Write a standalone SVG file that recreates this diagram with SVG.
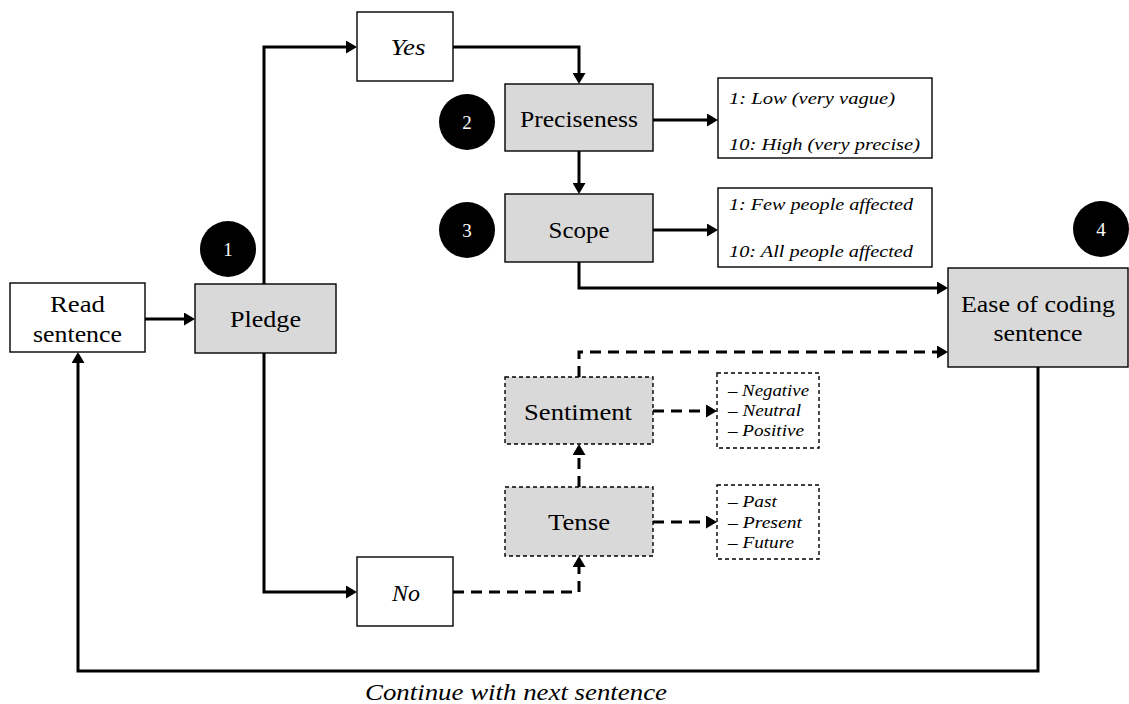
<svg xmlns="http://www.w3.org/2000/svg" width="1129" height="704" viewBox="0 0 1129 704">
<style>
  .box { fill: #ffffff; stroke: #000; stroke-width: 1.4; }
  .gbox { fill: #d9d9d9; stroke: #000; stroke-width: 1.4; }
  .dbox { fill: #d9d9d9; stroke: #000; stroke-width: 1.4; stroke-dasharray: 4 3; }
  .dwbox { fill: #ffffff; stroke: #000; stroke-width: 1.4; stroke-dasharray: 4 3; }
  text { font-family: "Liberation Serif", "DejaVu Serif Condensed", "Noto Serif", "DejaVu Serif", serif; fill: #000; }
  .t { font-size: 23px; text-anchor: middle; }
  .ti { font-size: 23px; font-style: italic; text-anchor: middle; }
  .r { font-size: 17.5px; font-style: italic; }
  .l { font-size: 16.5px; font-style: italic; }
  .num { font-size: 19px; fill: #fff; text-anchor: middle; }
  .c { fill: none; stroke: #000; stroke-width: 3; marker-end: url(#ah); }
  .cd { fill: none; stroke: #000; stroke-width: 3; stroke-dasharray: 11 7; marker-end: url(#ah); }
</style>
<defs>
  <marker id="ah" viewBox="0 0 11 13" markerWidth="11" markerHeight="13" markerUnits="userSpaceOnUse" refX="7" refY="6.5" orient="auto">
    <path d="M0,0 L11,6.5 L0,13 z" fill="#000"/>
  </marker>
</defs>
<rect width="1129" height="704" fill="#fff"/>

<g id="connectors">
  <path class="c" d="M145,319 H191"/>
  <path class="c" d="M264,284 V47 H353"/>
  <path class="c" d="M453,47 H579 V80"/>
  <path class="c" d="M653,120 H714"/>
  <path class="c" d="M579,151 V190"/>
  <path class="c" d="M653,230 H714"/>
  <path class="c" d="M579,262 V288 H944"/>
  <path class="c" d="M264,353 V592 H353"/>
  <path class="cd" d="M453,592 H579 V560"/>
  <path class="cd" d="M579,487 V448"/>
  <path class="cd" d="M653,411 H713"/>
  <path class="cd" d="M653,522 H713"/>
  <path class="cd" d="M579,377 V352 H944"/>
  <path class="c" d="M1038,367 V671 H78 V356"/>
</g>

<g id="read">
  <rect class="box" x="10" y="283" width="135" height="69"/>
  <text class="t" x="77.5" y="312" textLength="55" lengthAdjust="spacingAndGlyphs">Read</text>
  <text class="t" x="77.5" y="342" textLength="89" lengthAdjust="spacingAndGlyphs">sentence</text>
</g>
<g id="pledge">
  <rect class="gbox" x="195" y="284" width="141" height="69"/>
  <text class="t" x="265.5" y="327" textLength="71" lengthAdjust="spacingAndGlyphs">Pledge</text>
</g>
<g id="badge1">
  <circle cx="228" cy="249" r="28" fill="#000"/>
  <text class="num" x="228" y="256">1</text>
</g>
<g id="yes">
  <rect class="box" x="357" y="12" width="96" height="69"/>
  <text class="ti" x="408" y="55" textLength="35" lengthAdjust="spacingAndGlyphs">Yes</text>
</g>
<g id="no">
  <rect class="box" x="357" y="557" width="96" height="69"/>
  <text class="ti" x="406" y="601" textLength="28" lengthAdjust="spacingAndGlyphs">No</text>
</g>
<g id="preciseness">
  <rect class="gbox" x="505" y="84" width="148" height="67"/>
  <text class="t" x="579" y="127" textLength="118" lengthAdjust="spacingAndGlyphs">Preciseness</text>
</g>
<g id="badge2">
  <circle cx="467" cy="122" r="28" fill="#000"/>
  <text class="num" x="467" y="129">2</text>
</g>
<g id="scope">
  <rect class="gbox" x="505" y="194" width="148" height="68"/>
  <text class="t" x="579" y="238" textLength="61" lengthAdjust="spacingAndGlyphs">Scope</text>
</g>
<g id="badge3">
  <circle cx="467" cy="230" r="28" fill="#000"/>
  <text class="num" x="467" y="237">3</text>
</g>
<g id="range-preciseness">
  <rect class="box" x="718" y="78" width="214" height="80"/>
  <text class="r" x="729" y="104" textLength="166" lengthAdjust="spacingAndGlyphs">1: Low (very vague)</text>
  <text class="r" x="729" y="150" textLength="191" lengthAdjust="spacingAndGlyphs">10: High (very precise)</text>
</g>
<g id="range-scope">
  <rect class="box" x="718" y="188" width="214" height="79"/>
  <text class="r" x="729" y="210" textLength="184" lengthAdjust="spacingAndGlyphs">1: Few people affected</text>
  <text class="r" x="729" y="257" textLength="184" lengthAdjust="spacingAndGlyphs">10: All people affected</text>
</g>
<g id="ease">
  <rect class="gbox" x="948" y="268" width="180" height="99"/>
  <text class="t" x="1038" y="312" textLength="154" lengthAdjust="spacingAndGlyphs">Ease of coding</text>
  <text class="t" x="1038" y="341" textLength="89" lengthAdjust="spacingAndGlyphs">sentence</text>
</g>
<g id="badge4">
  <circle cx="1101" cy="229" r="28" fill="#000"/>
  <text class="num" x="1101" y="236">4</text>
</g>
<g id="sentiment">
  <rect class="dbox" x="505" y="377" width="148" height="67"/>
  <text class="t" x="578" y="420" textLength="108" lengthAdjust="spacingAndGlyphs">Sentiment</text>
</g>
<g id="sentiment-list">
  <rect class="dwbox" x="717" y="373" width="102" height="75"/>
  <text class="l" x="728" y="396" textLength="81" lengthAdjust="spacingAndGlyphs">– Negative</text>
  <text class="l" x="728" y="416" textLength="73" lengthAdjust="spacingAndGlyphs">– Neutral</text>
  <text class="l" x="728" y="436" textLength="76" lengthAdjust="spacingAndGlyphs">– Positive</text>
</g>
<g id="tense">
  <rect class="dbox" x="505" y="487" width="148" height="69"/>
  <text class="t" x="579" y="530" textLength="62" lengthAdjust="spacingAndGlyphs">Tense</text>
</g>
<g id="tense-list">
  <rect class="dwbox" x="717" y="485" width="102" height="74"/>
  <text class="l" x="728" y="507" textLength="49" lengthAdjust="spacingAndGlyphs">– Past</text>
  <text class="l" x="728" y="528" textLength="74" lengthAdjust="spacingAndGlyphs">– Present</text>
  <text class="l" x="728" y="548" textLength="66" lengthAdjust="spacingAndGlyphs">– Future</text>
</g>
<g id="loop-label">
  <text class="ti" x="516" y="700" textLength="302" lengthAdjust="spacingAndGlyphs">Continue with next sentence</text>
</g>
</svg>
